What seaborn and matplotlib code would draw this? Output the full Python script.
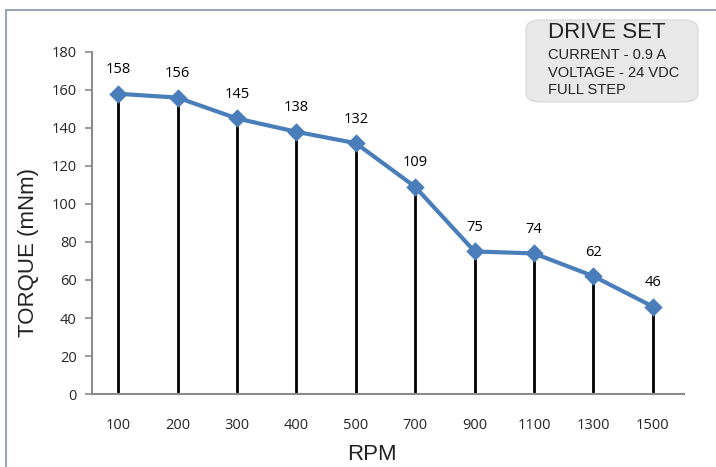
import matplotlib
matplotlib.use('Agg')
import matplotlib.pyplot as plt
import seaborn as sns
import pandas as pd
from matplotlib.patches import FancyBboxPatch, Rectangle

# data
rpm = ['100', '200', '300', '400', '500', '700', '900', '1100', '1300', '1500']
torque = [158, 156, 145, 138, 132, 109, 75, 74, 62, 46]

df = pd.DataFrame({'RPM': rpm, 'Torque': torque})

sns.set_style('white')
plt.rcParams['font.family'] = ['Open Sans', 'DejaVu Sans']

fig = plt.figure(figsize=(7.16, 4.67), dpi=100)
ax = fig.add_axes([0.1285, 0.1563, 0.8265, 0.7324])

# black drop lines under each point
ax.vlines(range(len(rpm)), 0, torque, color='black', linewidth=2, zorder=1)

sns.pointplot(data=df, x='RPM', y='Torque', color='#4A7EBB', markers='D',
              markersize=7, linewidth=3, ax=ax, zorder=3)

for i, v in enumerate(torque):
    ax.annotate(str(v), (i, v), xytext=(0, 12), textcoords='offset points',
                ha='center', va='bottom', fontsize=10.5, color='black')

ax.set_xlim(-0.44, 9.52)
ax.set_ylim(0, 180)
ax.set_yticks(range(0, 181, 20))
ax.set_xlabel('RPM', fontsize=16, color='#222222', family=['Liberation Sans'])
ax.set_ylabel('TORQUE (mNm)', fontsize=16, color='#222222', family=['Liberation Sans'])
# excel-like placement of the axis titles
ax.xaxis.set_label_coords(0.473, -0.178)
ax.yaxis.set_label_coords(-0.108, 0.415)
ax.xaxis.label.set_va('center')
ax.yaxis.label.set_va('center')

for s in ['top', 'right']:
    ax.spines[s].set_visible(False)
for s in ['left', 'bottom']:
    ax.spines[s].set_color('#8c8c8c')
    ax.spines[s].set_linewidth(1.5)
ax.tick_params(axis='y', left=True, length=5, width=1.2, color='#8c8c8c',
               labelsize=10.5, pad=6)
ax.tick_params(axis='x', bottom=False, labelsize=10.5, pad=14)

# outer frame (left and top edges visible)
fig.patches.append(Rectangle((6 / 716, -0.1), 1.2, 1.1 - 10 / 467, transform=fig.transFigure,
                             fill=False, edgecolor='#9aa3b8', linewidth=1.5))

# drive-set info box
fig.patches.append(FancyBboxPatch((526 / 716, 1 - 102 / 467), 172 / 716, 82 / 467,
                                  boxstyle='round,pad=0,rounding_size=0.02',
                                  transform=fig.transFigure, facecolor='#e8e8e8',
                                  edgecolor='#dcdcdc', linewidth=1))
fig.text(548 / 716, 1 - 33 / 467, 'DRIVE SET', fontsize=16, color='#222222',
         va='center', ha='left', family=['Liberation Sans'])
fig.text(548 / 716, 1 - 55 / 467, 'CURRENT - 0.9 A', fontsize=10.5, color='#222222',
         va='center', ha='left', family=['Liberation Sans'])
fig.text(548 / 716, 1 - 73 / 467, 'VOLTAGE - 24 VDC', fontsize=10.5, color='#222222',
         va='center', ha='left', family=['Liberation Sans'])
fig.text(548 / 716, 1 - 90 / 467, 'FULL STEP', fontsize=10.5, color='#222222',
         va='center', ha='left', family=['Liberation Sans'])

fig.savefig('out.png', dpi=100)
